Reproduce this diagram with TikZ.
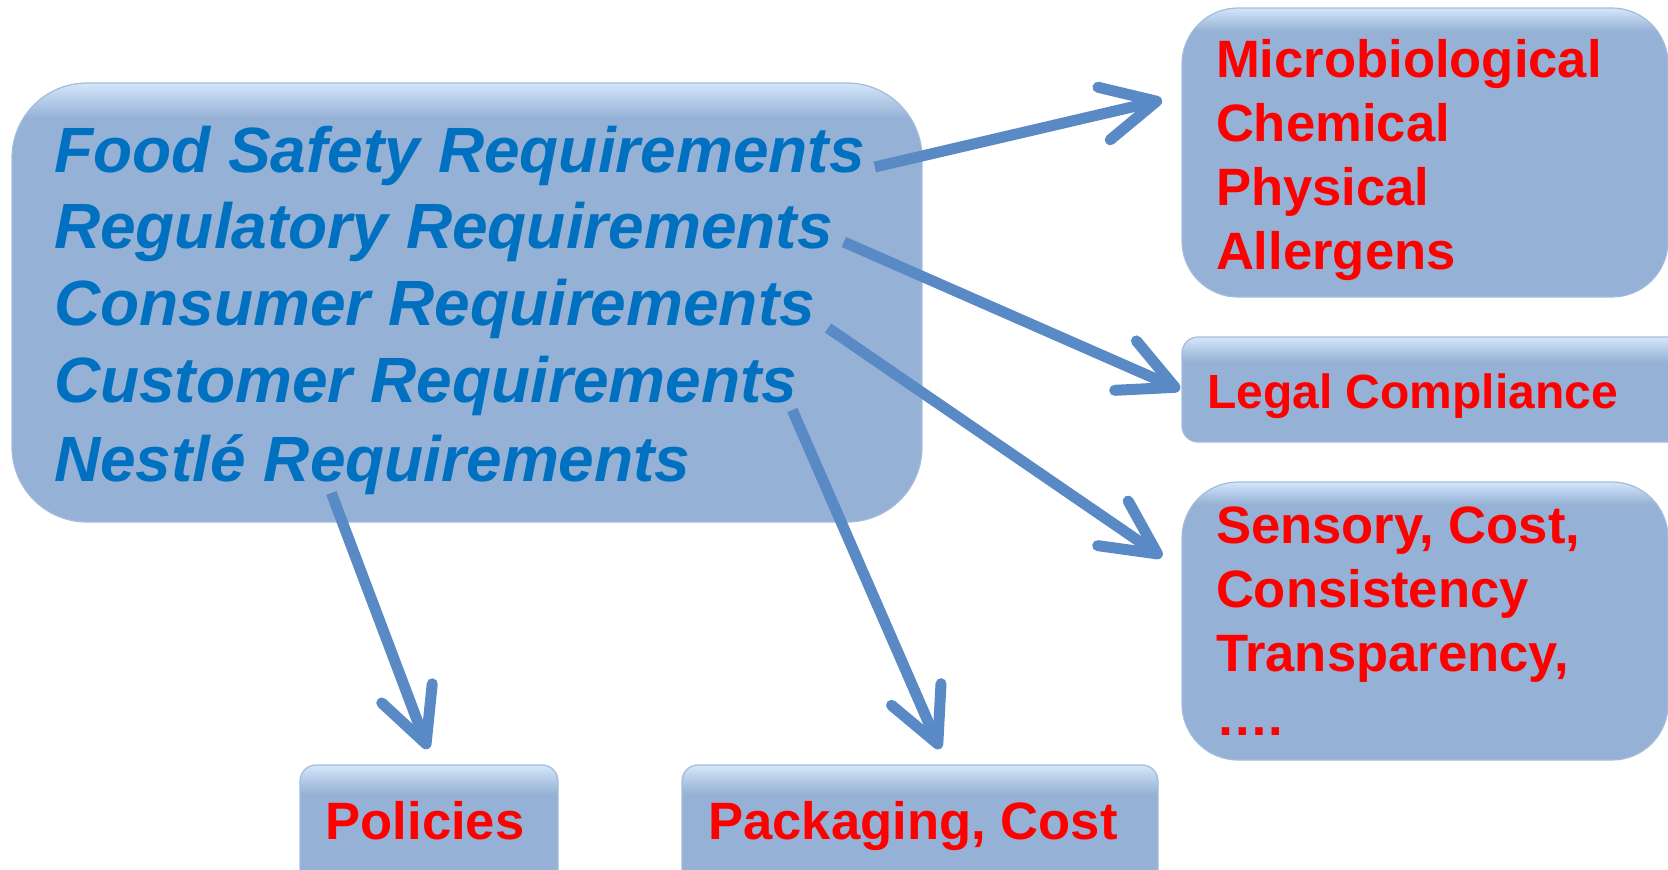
\documentclass[tikz,border=0pt]{standalone}
\usepackage{fontspec}
\setmainfont{Liberation Sans}
\usetikzlibrary{arrows.meta,calc}
\definecolor{c95B1D5}{RGB}{149,177,213}
\definecolor{cD4E6FA}{RGB}{212,230,250}
\definecolor{cA3BCDC}{RGB}{163,188,220}
\definecolor{c0070C0}{RGB}{0,112,192}
\definecolor{cFF0000}{RGB}{255,0,0}
\definecolor{c5A8AC6}{RGB}{90,138,198}
\pgfdeclareverticalshading{softshade}{100bp}{color(0bp)=(c95B1D5); color(25bp)=(c95B1D5);
  color(71bp)=(c95B1D5); color(75bp)=(cD4E6FA); color(100bp)=(cD4E6FA)}
\pgfdeclareverticalshading{bevelshade}{100bp}{color(0bp)=(c95B1D5); color(25bp)=(c95B1D5);
  color(63bp)=(c95B1D5); color(75bp)=(cD4E6FA); color(100bp)=(cD4E6FA)}

\begin{document}
\begin{tikzpicture}[y=0.5pt,x=0.5pt,yscale=-1, inner sep=0pt, outer sep=0pt,
    softbox/.style={shade, shading=softshade, draw=cA3BCDC, line width=0.6pt, rounded corners=28pt},
    bevelbox/.style={shade, shading=bevelshade, draw=cA3BCDC, line width=0.6pt, rounded corners=8pt},
    reqline/.style={text=c0070C0, anchor=base west, font=\fontsize{32}{38}\selectfont\bfseries\itshape},
    redline/.style={text=cFF0000, anchor=base west, align=left, font=\fontsize{26.3}{32}\selectfont\bfseries},
    flow/.style={draw=c5A8AC6, line width=5.5pt, -{Straight Barb[length=27pt,width=27pt,round]}}]
  \useasboundingbox (0,0) rectangle (1668,869);

  % requirements
  \node[softbox, rounded corners=37.5pt, minimum width=455pt, minimum height=219.5pt] (req) at (467,302.5) {};
  \node[reqline] (food) at (54,172) {Food Safety Requirements};
  \node[reqline] (regulatory) at (54,248) {Regulatory Requirements};
  \node[reqline] (consumer) at (54,325) {Consumer Requirements};
  \node[reqline] (customer) at (54,402) {Customer Requirements};
  \node[reqline] (nestle) at (54,481) {Nestlé Requirements};

  % outcomes (multi-line texts sit on their last baseline)
  \node[softbox, minimum width=243pt, minimum height=144.5pt] (hazards) at (1425,152.5) {};
  \node[redline] (hazardtxt) at (1216,269) {Microbiological\\Chemical\\Physical\\Allergens};
  \node[bevelbox, minimum width=259pt, minimum height=52.5pt] (legal) at (1441,389.5) {};
  \node[text=cFF0000, anchor=base west, font=\fontsize{24}{28}\selectfont\bfseries] (legaltxt) at (1207,408) {Legal Compliance};
  \node[softbox, minimum width=243pt, minimum height=139pt] (sensory) at (1425,621) {};
  \node[redline] (sensorytxt) at (1216,735) {Sensory, Cost,\\Consistency\\Transparency,\\….};
  \node[bevelbox, minimum width=129pt, minimum height=60.5pt] (policies) at (429,825.5) {};
  \node[redline, anchor=base] (policiestxt) at (425,839) {Policies};
  \node[bevelbox, minimum width=238pt, minimum height=60.5pt] (packaging) at (920,825.5) {};
  \node[redline, anchor=base] (packagingtxt) at (913,839) {Packaging, Cost};

  % arrows
  \draw[flow] ($(food.base east)+(10,-5)$) -- ($(hazards.west)+(-20,-52.5)$);
  \draw[flow] ($(regulatory.base east)+(11,-6)$) -- ($(legal.west)+(-2,0)$);
  \draw[flow] ($(consumer.base east)+(13,3)$) -- ($(sensory.west)+(-20,-64)$);
  \draw[flow] ($(customer.base east)+(-5,8)$) -- ($(packaging.north)+(20,-16)$);
  \draw[flow] ($(nestle.base)+(-41,12)$) -- ($(policies.north)+(-1,-16)$);

\end{tikzpicture}
\end{document}
